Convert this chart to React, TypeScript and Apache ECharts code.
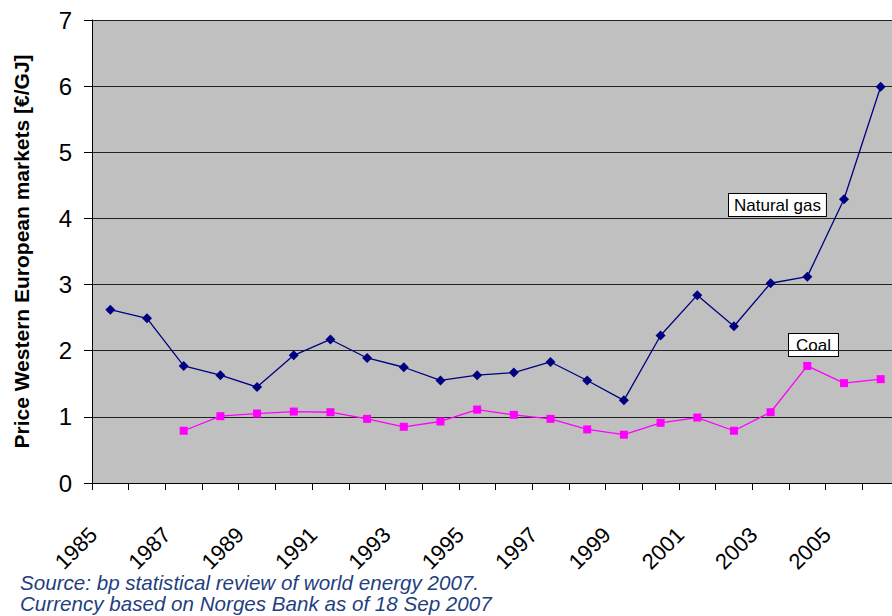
import React, { useEffect, useRef } from "react";
import * as echarts from "echarts";

const years = ["1985","1986","1987","1988","1989","1990","1991","1992","1993","1994","1995","1996","1997","1998","1999","2000","2001","2002","2003","2004","2005","2006"];
const naturalGas = [2.62, 2.49, 1.77, 1.63, 1.45, 1.93, 2.17, 1.89, 1.75, 1.55, 1.63, 1.67, 1.83, 1.55, 1.25, 2.23, 2.84, 2.37, 3.02, 3.12, 4.29, 5.99];
const coal = [null, null, 0.79, 1.01, 1.05, 1.08, 1.07, 0.97, 0.85, 0.93, 1.11, 1.03, 0.97, 0.81, 0.73, 0.91, 0.99, 0.79, 1.07, 1.77, 1.51, 1.57];
const yTicks = [0, 1, 2, 3, 4, 5, 6, 7];

const FONT = "Liberation Sans, Arial, sans-serif";

export default function App() {
  const ref = useRef<HTMLDivElement>(null);
  useEffect(() => {
    const chart = echarts.init(ref.current!, null, { renderer: "svg" });
    chart.setOption({
      animation: false,
      textStyle: { fontFamily: FONT },
      grid: {
        left: 92, top: 20, width: 807, height: 463,
        backgroundColor: "#C0C0C0", show: true, borderWidth: 0,
        containLabel: false, outerBoundsMode: "none",
      },
      xAxis: {
        type: "category",
        data: years,
        boundaryGap: true,
        axisLine: { lineStyle: { color: "#000", width: 1 } },
        axisTick: { show: true, alignWithLabel: false, interval: 0, length: 7, lineStyle: { color: "#000" } },
        axisLabel: { interval: 1, rotate: 45, color: "#000", fontSize: 22, margin: 31, padding: [0, 24, 0, 0] },
        splitLine: { show: false },
      },
      yAxis: {
        type: "value",
        min: yTicks[0],
        max: yTicks[yTicks.length - 1],
        interval: 1,
        name: "Price Western European markets [€/GJ]",
        nameLocation: "middle",
        nameGap: 60,
        nameMoveOverlap: false,
        nameTextStyle: { fontSize: 21, fontWeight: "bold", color: "#000" },
        axisLine: { show: true, lineStyle: { color: "#000" } },
        axisTick: { show: true, length: 8, lineStyle: { color: "#000" } },
        axisLabel: { color: "#000", fontSize: 24, margin: 20 },
        splitLine: { show: true, lineStyle: { color: "#222", width: 1 } },
      },
      series: [
        {
          name: "Natural gas",
          type: "line",
          data: naturalGas,
          symbol: "diamond",
          symbolSize: 10,
          itemStyle: { color: "#000080" },
          lineStyle: { color: "#000080", width: 1.3 },
        },
        {
          name: "Coal",
          type: "line",
          data: coal,
          symbol: "rect",
          symbolSize: 8,
          itemStyle: { color: "#FF00FF" },
          lineStyle: { color: "#FF00FF", width: 1.3 },
        },
      ],
      graphic: [
        {
          type: "text",
          left: 728,
          top: 193,
          style: {
            text: "Natural gas",
            fontSize: 17,
            fontFamily: FONT,
            fill: "#000",
            backgroundColor: "#fff",
            borderColor: "#000",
            borderWidth: 1,
            padding: [3, 5, 2, 5],
          },
        },
        {
          type: "text",
          left: 788,
          top: 333,
          style: {
            text: "Coal",
            fontSize: 17,
            fontFamily: FONT,
            fill: "#000",
            backgroundColor: "#fff",
            borderColor: "#000",
            borderWidth: 1,
            padding: [3, 7, 2, 7],
          },
        },
        {
          type: "text",
          left: 20,
          top: 572,
          style: {
            text: "Source: bp statistical review of world energy 2007.\nCurrency based on Norges Bank as of 18 Sep 2007",
            fontSize: 20.6,
            lineHeight: 21,
            fontStyle: "italic",
            fontFamily: FONT,
            fill: "#1F3F7F",
          },
        },
      ],
    });
    return () => chart.dispose();
  }, []);
  return <div ref={ref} style={{ width: 892, height: 616, position: "absolute", left: 0, top: 0 }} />;
}
